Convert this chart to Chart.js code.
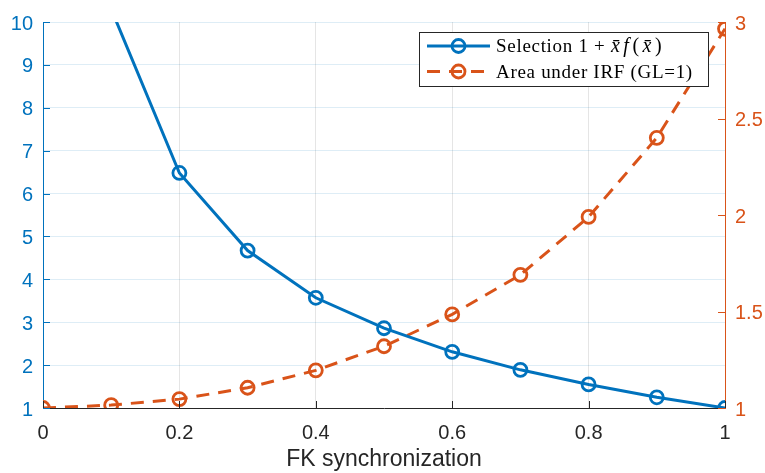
<!DOCTYPE html>
<html>
<head>
<meta charset="utf-8">
<script src="https://cdn.jsdelivr.net/npm/chart.js@4.4.1/dist/chart.umd.min.js"></script>
<style>
  html, body { margin: 0; padding: 0; background: #fff; }
  #wrap { width: 765px; height: 473px; }
</style>
</head>
<body>
<div id="wrap"><canvas id="chart" width="765" height="473"></canvas></div>
<script>
// data
var selectionX = [0.1, 0.2, 0.3, 0.4, 0.5, 0.6, 0.7, 0.8, 0.9, 1.0];
var selectionY = [10.3, 6.48, 4.67, 3.57, 2.86, 2.31, 1.89, 1.55, 1.25, 1.0];
var areaX = [0, 0.1, 0.2, 0.3, 0.4, 0.5, 0.6, 0.7, 0.8, 0.9, 1.0];
var areaY = [1.0, 1.015, 1.046, 1.105, 1.195, 1.32, 1.485, 1.69, 1.99, 2.40, 2.965];
var xTitle = 'FK synchronization';
// legend text pieces: [text, italic]
var legendLabels = [
  [['Selection 1 + ', false], ['x\u0304', true], ['f', true], ['(', false], ['x\u0304', true], [')', false]],
  [['Area under IRF (GL=1)', false]]
];

var BLUE = '#0072BD';
var ORANGE = '#D95319';
var DARK = '#262626';

function toPoints(xs, ys) {
  return xs.map(function(x, i) { return { x: x, y: ys[i] }; });
}

function plainNumber(v) {
  return String(Math.round(v * 10) / 10);
}

// inward tick marks, like the original
var inwardTicks = {
  id: 'inwardTicks',
  afterDatasetsDraw: function(chart) {
    var ctx = chart.ctx;
    var a = chart.chartArea;
    var len = 7;
    ctx.save();
    ctx.lineWidth = 1;
    var sx = chart.scales.x;
    ctx.strokeStyle = DARK;
    sx.ticks.forEach(function(t) {
      var px = Math.round(sx.getPixelForValue(t.value)) + 0.5;
      ctx.beginPath(); ctx.moveTo(px, a.bottom); ctx.lineTo(px, a.bottom - len); ctx.stroke();
    });
    var sy = chart.scales.y;
    ctx.strokeStyle = BLUE;
    sy.ticks.forEach(function(t) {
      var py = Math.round(sy.getPixelForValue(t.value)) + 0.5;
      ctx.beginPath(); ctx.moveTo(a.left, py); ctx.lineTo(a.left + len, py); ctx.stroke();
    });
    var sy1 = chart.scales.y1;
    ctx.strokeStyle = ORANGE;
    sy1.ticks.forEach(function(t) {
      var py = Math.round(sy1.getPixelForValue(t.value)) + 0.5;
      ctx.beginPath(); ctx.moveTo(a.right, py); ctx.lineTo(a.right - len, py); ctx.stroke();
    });
    ctx.restore();
  }
};

// boxed legend inside the plot, top right
var insetLegend = {
  id: 'insetLegend',
  afterDraw: function(chart) {
    var ctx = chart.ctx;
    var box = { left: 419, top: 32, width: 289, height: 54 };
    ctx.save();
    ctx.fillStyle = '#ffffff';
    ctx.fillRect(box.left, box.top, box.width, box.height);
    ctx.strokeStyle = DARK;
    ctx.lineWidth = 1;
    ctx.strokeRect(box.left + 0.5, box.top + 0.5, box.width, box.height);

    chart.data.datasets.forEach(function(ds, i) {
      var cy = box.top + 14 + i * 25.5;
      var x0 = box.left + 8, x1 = box.left + 71;
      ctx.strokeStyle = ds.borderColor;
      ctx.lineWidth = ds.borderWidth;
      ctx.setLineDash(ds.borderDash || []);
      ctx.beginPath(); ctx.moveTo(x0, cy); ctx.lineTo(x1, cy); ctx.stroke();
      ctx.setLineDash([]);
      ctx.lineWidth = ds.pointBorderWidth;
      ctx.beginPath(); ctx.arc((x0 + x1) / 2, cy, ds.pointRadius, 0, Math.PI * 2); ctx.stroke();

      var tx = box.left + 77;
      ctx.fillStyle = '#000000';
      ctx.textBaseline = 'alphabetic';
      legendLabels[i].forEach(function(part, j) {
        var math = i === 0 && j > 0;
        ctx.letterSpacing = math ? '1px' : '0.7px';
        ctx.font = (part[1] ? 'italic ' : '') + (math ? '20px' : '19px') + ' "Liberation Serif", "DejaVu Serif", serif';
        ctx.fillText(part[0], tx, cy + 6);
        tx += ctx.measureText(part[0]).width + (math ? 2.5 : 0);
      });
    });
    ctx.restore();
  }
};

var tickFont = { family: '"Liberation Sans", Arial, sans-serif', size: 20 };

new Chart(document.getElementById('chart').getContext('2d'), {
  type: 'line',
  data: {
    datasets: [
      {
        label: 'Selection',
        data: toPoints(selectionX, selectionY),
        yAxisID: 'y',
        borderColor: BLUE,
        borderWidth: 3,
        pointRadius: 6.5,
        pointBorderWidth: 2.8,
        pointBorderColor: BLUE,
        pointBackgroundColor: 'rgba(0,0,0,0)',
        tension: 0,
        fill: false
      },
      {
        label: 'Area under IRF (GL=1)',
        data: toPoints(areaX, areaY),
        yAxisID: 'y1',
        borderColor: ORANGE,
        borderWidth: 3,
        borderDash: [13, 9],
        pointRadius: 6.5,
        pointBorderWidth: 2.8,
        pointBorderColor: ORANGE,
        pointBackgroundColor: 'rgba(0,0,0,0)',
        tension: 0,
        fill: false
      }
    ]
  },
  options: {
    responsive: false,
    animation: false,
    devicePixelRatio: 1,
    layout: { padding: { top: 16, left: 0, right: 0, bottom: 0 } },
    plugins: {
      legend: { display: false },
      tooltip: { enabled: false }
    },
    scales: {
      x: {
        type: 'linear',
        min: 0,
        max: 1,
        ticks: { stepSize: 0.2, color: DARK, font: tickFont, padding: 13, maxRotation: 0, callback: plainNumber },
        grid: { color: 'rgba(38,38,38,0.12)', drawTicks: false },
        border: { color: DARK, width: 1 },
        title: {
          display: true,
          text: xTitle,
          color: DARK,
          font: { family: '"Liberation Sans", Arial, sans-serif', size: 23 },
          padding: { top: 0, bottom: 0 }
        },
        afterFit: function(scale) { scale.height = 65; }
      },
      y: {
        type: 'linear',
        position: 'left',
        min: 1,
        max: 10,
        ticks: { stepSize: 1, color: BLUE, font: tickFont, padding: 10, labelOffset: 2, callback: plainNumber },
        grid: { color: 'rgba(0,114,189,0.13)', drawTicks: false },
        border: { color: BLUE, width: 1 },
        afterFit: function(scale) { scale.width = 43; }
      },
      y1: {
        type: 'linear',
        position: 'right',
        min: 1,
        max: 3,
        ticks: { stepSize: 0.5, color: ORANGE, font: tickFont, padding: 10, labelOffset: 2, callback: plainNumber },
        grid: { drawOnChartArea: false, drawTicks: false },
        border: { color: ORANGE, width: 1 },
        afterFit: function(scale) { scale.width = 40; }
      }
    }
  },
  plugins: [inwardTicks, insetLegend]
});
</script>
</body>
</html>
